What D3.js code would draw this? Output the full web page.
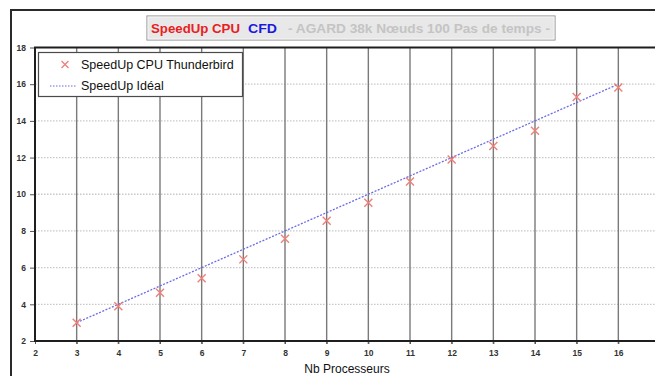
<!DOCTYPE html>
<html>
<head>
<meta charset="utf-8">
<script src="https://cdn.jsdelivr.net/npm/d3@7"></script>
<style>
  html, body { margin: 0; padding: 0; background: #fff; }
  svg { display: block; font-family: Arial, "Liberation Sans", sans-serif; }
</style>
</head>
<body>
<svg id="chart" width="655" height="376"></svg>
<script>
// Processor counts and measured CPU speedup (Thunderbird cluster)
const processors = [3, 4, 5, 6, 7, 8, 9, 10, 11, 12, 13, 14, 15, 16];
const speedupMeasured = [3.0, 3.9, 4.63, 5.42, 6.45, 7.57, 8.56, 9.54, 10.7, 11.9, 12.63, 13.46, 15.3, 15.82];
// Ideal (linear) speedup
const speedupIdeal = [3, 4, 5, 6, 7, 8, 9, 10, 11, 12, 13, 14, 15, 16];

const xTicks = [2, 3, 4, 5, 6, 7, 8, 9, 10, 11, 12, 13, 14, 15, 16, 17];
const yTicks = [2, 4, 6, 8, 10, 12, 14, 16, 18];

const titleParts = [
  { text: "SpeedUp CPU", color: "#e8201e", x: 151, w: 89 },
  { text: "CFD", color: "#1a1adf", x: 248, w: 29 },
  { text: "- AGARD 38k Nœuds 100 Pas de temps -", color: "#c4c4c4", x: 288, w: 262 }
];
const legendLabels = ["SpeedUp CPU Thunderbird", "SpeedUp Idéal"];
const xAxisTitle = "Nb Processeurs";

const markerColor = "#ef7f78";
const idealColor = "#6b6be8";

const svg = d3.select("#chart");

// Outer frame
svg.append("path")
  .attr("d", "M11,376 L11,10 L655,10")
  .attr("fill", "none").attr("stroke", "#2a2a2a").attr("stroke-width", 2);

// Title box
const tb = svg.append("g");
tb.append("rect")
  .attr("x", 147).attr("y", 16).attr("width", 408).attr("height", 24)
  .attr("fill", "#e8e8e8").attr("stroke", "#9a9a9a").attr("stroke-width", 1.2);
tb.append("rect")
  .attr("x", 148).attr("y", 17).attr("width", 406).attr("height", 22)
  .attr("fill", "none").attr("stroke", "#f6f6f6").attr("stroke-width", 1);
tb.selectAll("text").data(titleParts).join("text")
  .attr("x", d => d.x).attr("y", 33)
  .attr("font-size", 13).attr("font-weight", "bold")
  .attr("textLength", d => d.w).attr("lengthAdjust", "spacingAndGlyphs")
  .attr("fill", d => d.color).text(d => d.text);

// Scales
const x = d3.scaleLinear().domain([2, 17]).range([35, 660]);
const y = d3.scaleLinear().domain([2, 18]).range([341, 47.5]);

const plot = svg.append("g");

// Horizontal dotted gridlines
plot.selectAll("line.hgrid").data(yTicks.filter(v => v > 2 && v < 18)).join("line")
  .attr("class", "hgrid")
  .attr("x1", x(2)).attr("x2", 655)
  .attr("y1", d => y(d)).attr("y2", d => y(d))
  .attr("stroke", "#c8c8c8").attr("stroke-width", 1.3)
  .attr("stroke-dasharray", "1.5,1.5");

// Vertical solid gridlines
plot.selectAll("line.vgrid").data(xTicks.filter(v => v > 2)).join("line")
  .attr("class", "vgrid")
  .attr("x1", d => x(d)).attr("x2", d => x(d))
  .attr("y1", y(18)).attr("y2", y(2) + 3)
  .attr("stroke", "#7a7a7a").attr("stroke-width", 1.4);

// Axes (ticks + labels)
const yAxis = d3.axisLeft(y).tickValues(yTicks).tickSize(5).tickPadding(4).tickFormat(d3.format("d"));
const gy = svg.append("g").attr("transform", `translate(${x(2)},0)`).call(yAxis);
gy.select(".domain").remove();
gy.selectAll(".tick line").attr("stroke", "#555");
gy.selectAll(".tick text").attr("font-size", 8.5).attr("font-weight", "bold")
  .attr("fill", "#333").attr("font-family", "Arial, 'Liberation Sans', sans-serif");

const xAxis = d3.axisBottom(x).tickValues(xTicks).tickSize(3).tickPadding(6).tickFormat(d3.format("d"));
const gx = svg.append("g").attr("transform", `translate(0,${y(2)})`).call(xAxis);
gx.select(".domain").remove();
gx.selectAll(".tick line").attr("stroke", "#555");
gx.selectAll(".tick text").attr("font-size", 8.5).attr("font-weight", "bold")
  .attr("fill", "#333").attr("font-family", "Arial, 'Liberation Sans', sans-serif");

// Plot frame: top, left, bottom
svg.append("path")
  .attr("d", `M655,${y(18)} L${x(2)},${y(18)} L${x(2)},${y(2)} L655,${y(2)}`)
  .attr("fill", "none").attr("stroke", "#1e1e1e").attr("stroke-width", 2);

// Ideal speedup line
const line = d3.line().x((d, i) => x(processors[i])).y(d => y(d));
svg.append("path")
  .attr("d", line(speedupIdeal))
  .attr("fill", "none").attr("stroke", idealColor).attr("stroke-width", 1.3)
  .attr("stroke-dasharray", "2,1.5");

// Measured speedup markers (crosses)
const crossPath = s => `M${-s},${-s}L${s},${s}M${-s},${s}L${s},${-s}`;
svg.selectAll("path.pt").data(speedupMeasured).join("path")
  .attr("class", "pt")
  .attr("transform", (d, i) => `translate(${x(processors[i])},${y(d)})`)
  .attr("d", crossPath(4))
  .attr("stroke", markerColor).attr("stroke-width", 1.4).attr("fill", "none");

// Legend
const lg = svg.append("g");
lg.append("rect")
  .attr("x", 38.5).attr("y", 52.5).attr("width", 204).attr("height", 44)
  .attr("fill", "#fff").attr("stroke", "#4a4a4a").attr("stroke-width", 1.2);
lg.append("path")
  .attr("transform", "translate(65,64.5)")
  .attr("d", crossPath(3.5))
  .attr("stroke", markerColor).attr("stroke-width", 1.3).attr("fill", "none");
lg.append("line")
  .attr("x1", 50).attr("x2", 77).attr("y1", 86).attr("y2", 86)
  .attr("stroke", idealColor).attr("stroke-width", 1.2).attr("stroke-dasharray", "1.5,1.5");
lg.selectAll("text").data(legendLabels).join("text")
  .attr("x", 81).attr("y", (d, i) => 68.5 + i * 21.5)
  .attr("font-size", 12.5).attr("fill", "#111").text(d => d);

// X axis title
svg.append("text")
  .attr("x", 347).attr("y", 373).attr("text-anchor", "middle")
  .attr("font-size", 12).attr("fill", "#111").text(xAxisTitle);
</script>
</body>
</html>
